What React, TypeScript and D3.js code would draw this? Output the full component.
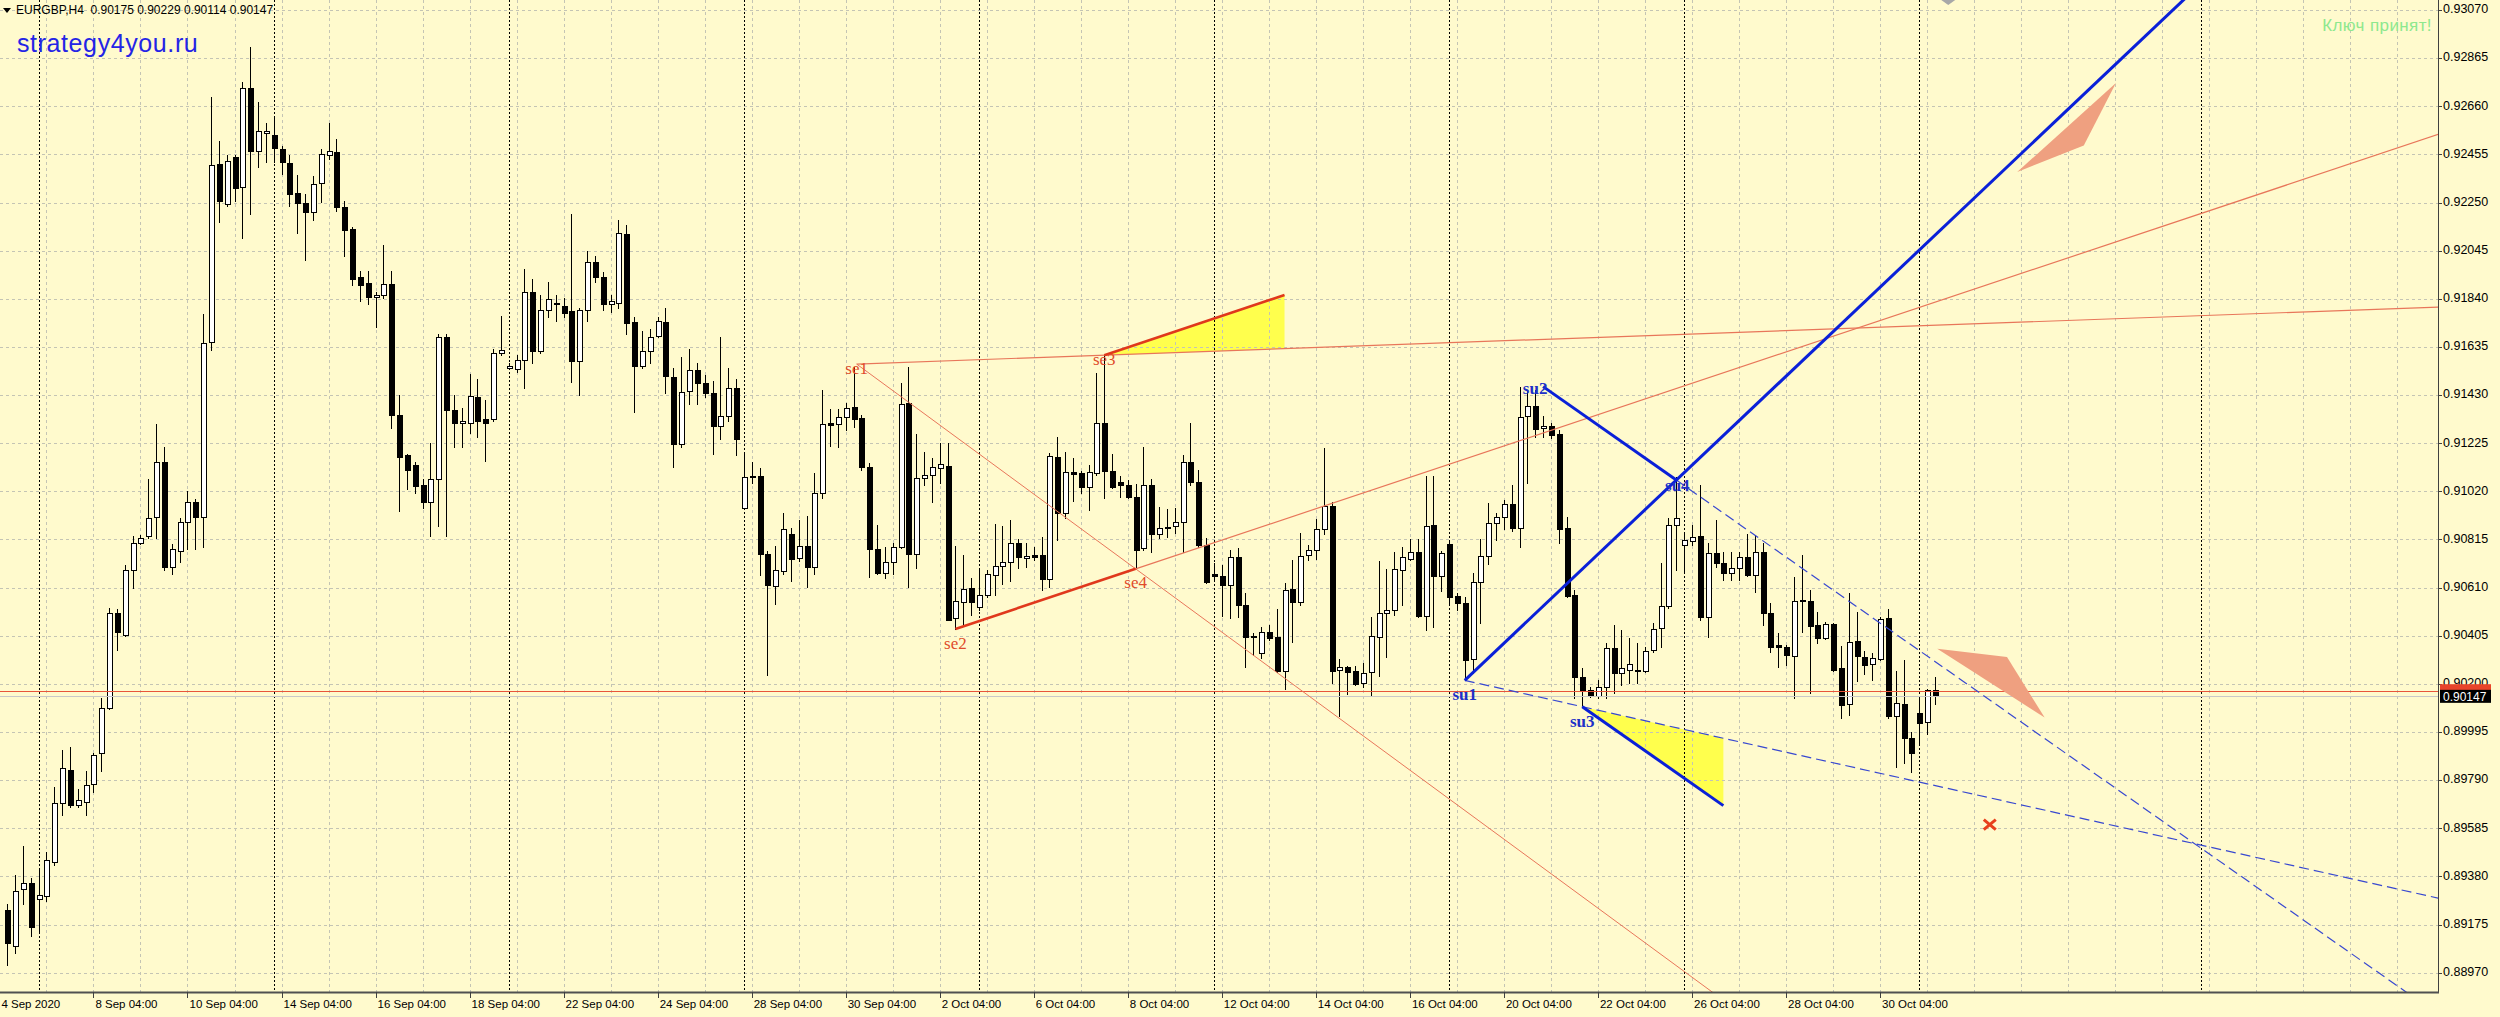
import React, { useRef, useEffect } from "react";
import * as d3 from "d3";

// EURGBP H4, bar 0 = 4 Sep 2020 08:00 ... bar 246 = 2 Nov 2020 08:00
const opens = [
  0.89235, 0.89083, 0.89326, 0.89354, 0.89284, 0.89296, 0.89442, 0.89691, 0.89834, 0.89685,
  0.89696, 0.89773, 0.89906, 0.90099, 0.90502, 0.90408, 0.90684, 0.908, 0.90828, 0.90911,
  0.91145, 0.90698, 0.90767, 0.90888, 0.90974, 0.90911, 0.91656, 0.92415, 0.92244, 0.92442,
  0.92318, 0.92738, 0.9247, 0.92547, 0.92539, 0.92478, 0.92418, 0.9229, 0.92249, 0.92208,
  0.92332, 0.92451, 0.92464, 0.9223, 0.92139, 0.91932, 0.91907, 0.91849, 0.91857, 0.91904,
  0.91347, 0.91173, 0.91131, 0.91048, 0.90974, 0.91071, 0.91678, 0.91366, 0.91313, 0.91313,
  0.91421, 0.9133, 0.9133, 0.91609, 0.91545, 0.9154, 0.91578, 0.91871, 0.91617, 0.91794,
  0.91816, 0.9181, 0.91788, 0.91576, 0.91794, 0.91995, 0.91932, 0.91816, 0.91821, 0.92114,
  0.91741, 0.91554, 0.91617, 0.91683, 0.91743, 0.91508, 0.9122, 0.91447, 0.91537, 0.9148,
  0.91437, 0.91299, 0.91342, 0.91459, 0.90947, 0.91085, 0.91085, 0.90753, 0.90618, 0.90682,
  0.90838, 0.90737, 0.90787, 0.90696, 0.91011, 0.91309, 0.91307, 0.91335, 0.91378, 0.91331,
  0.91125, 0.90773, 0.90673, 0.9072, 0.90784, 0.91395, 0.90753, 0.91075, 0.91089, 0.91121,
  0.91129, 0.90479, 0.9055, 0.90607, 0.90528, 0.90578, 0.90663, 0.90702, 0.9072, 0.90798,
  0.90737, 0.90747, 0.90749, 0.90645, 0.91167, 0.90926, 0.91104, 0.91099, 0.9104, 0.91099,
  0.91309, 0.91108, 0.9106, 0.91047, 0.90994, 0.90777, 0.91047, 0.90838, 0.90866, 0.90872,
  0.90891, 0.91146, 0.91061, 0.90791, 0.9067, 0.9066, 0.90621, 0.90741, 0.90536, 0.90398,
  0.90332, 0.90422, 0.904, 0.90256, 0.90602, 0.90547, 0.90751, 0.90772, 0.90858, 0.90958,
  0.90258, 0.90273, 0.90254, 0.90204, 0.90251, 0.904, 0.90503, 0.90514, 0.90687, 0.90734,
  0.90762, 0.90489, 0.90877, 0.9066, 0.90796, 0.90574, 0.90546, 0.90305, 0.90636, 0.90745,
  0.90884, 0.9091, 0.90966, 0.90863, 0.91341, 0.91384, 0.91289, 0.91299, 0.91265, 0.90863,
  0.90579, 0.90231, 0.90174, 0.90148, 0.90188, 0.90352, 0.90248, 0.90259, 0.90256, 0.90256,
  0.90344, 0.90437, 0.90532, 0.90877, 0.90792, 0.90809, 0.9083, 0.90486, 0.90756, 0.90716,
  0.90671, 0.90692, 0.90742, 0.90664, 0.90763, 0.90501, 0.90366, 0.90359, 0.90319, 0.90552,
  0.90555, 0.90451, 0.90394, 0.90455, 0.90267, 0.90115, 0.90383, 0.90316, 0.90284, 0.90305,
  0.9048, 0.90063, 0.90113, 0.89968, 0.90078, 0.90039, 0.90175,
];
const highs = [
  0.89263, 0.89387, 0.89511, 0.89373, 0.89415, 0.89484, 0.8976, 0.89917, 0.89933, 0.89751,
  0.89829, 0.89906, 0.90138, 0.90524, 0.90519, 0.90706, 0.90828, 0.90833, 0.91071, 0.91305,
  0.91209, 0.90795, 0.90905, 0.91021, 0.90988, 0.91774, 0.92699, 0.92511, 0.92451, 0.92451,
  0.92765, 0.92912, 0.92677, 0.92589, 0.92616, 0.92492, 0.92451, 0.92368, 0.92285, 0.92362,
  0.92478, 0.92589, 0.9252, 0.92257, 0.92147, 0.91959, 0.91959, 0.91871, 0.9207, 0.91959,
  0.91429, 0.91181, 0.91145, 0.91071, 0.91228, 0.91692, 0.91692, 0.91429, 0.91374, 0.91518,
  0.91498, 0.91407, 0.91628, 0.91766, 0.91567, 0.91601, 0.91968, 0.91926, 0.91857, 0.91912,
  0.91857, 0.91843, 0.92202, 0.91802, 0.92042, 0.92023, 0.91954, 0.91857, 0.92175, 0.92153,
  0.91761, 0.91705, 0.91711, 0.91761, 0.91799, 0.91544, 0.91593, 0.91625, 0.91568, 0.91515,
  0.9149, 0.91676, 0.91544, 0.91497, 0.91189, 0.91146, 0.91118, 0.90767, 0.90787, 0.90926,
  0.90866, 0.909, 0.90916, 0.91099, 0.91451, 0.91369, 0.91369, 0.91397, 0.91548, 0.91345,
  0.91142, 0.90876, 0.90784, 0.90798, 0.9148, 0.91548, 0.91264, 0.91189, 0.9116, 0.91224,
  0.91227, 0.90787, 0.90749, 0.90649, 0.90687, 0.90685, 0.90879, 0.90872, 0.90898, 0.90815,
  0.90798, 0.90784, 0.90827, 0.91182, 0.91253, 0.91189, 0.9116, 0.91108, 0.91132, 0.91522,
  0.916, 0.91179, 0.91085, 0.91068, 0.91051, 0.9121, 0.91071, 0.90954, 0.90943, 0.9095,
  0.91175, 0.91309, 0.91113, 0.9082, 0.90713, 0.90706, 0.9077, 0.90777, 0.90585, 0.90415,
  0.90443, 0.9045, 0.90517, 0.9063, 0.90727, 0.90841, 0.90791, 0.90904, 0.91203, 0.90975,
  0.90304, 0.90275, 0.90275, 0.90287, 0.90486, 0.90723, 0.90691, 0.90762, 0.90781, 0.90815,
  0.90819, 0.91086, 0.91086, 0.90768, 0.90806, 0.90589, 0.90572, 0.90674, 0.90816, 0.90969,
  0.90927, 0.90983, 0.91047, 0.91466, 0.91452, 0.91452, 0.91341, 0.9131, 0.91282, 0.9091,
  0.906, 0.90266, 0.90188, 0.90217, 0.90373, 0.90451, 0.9043, 0.90394, 0.90373, 0.90359,
  0.90458, 0.90714, 0.90905, 0.91083, 0.90841, 0.90877, 0.91047, 0.90799, 0.90898, 0.90763,
  0.90763, 0.90763, 0.90839, 0.90834, 0.90802, 0.90543, 0.90418, 0.90366, 0.90657, 0.90749,
  0.906, 0.90508, 0.90465, 0.90458, 0.90362, 0.90586, 0.90508, 0.90338, 0.9033, 0.90487,
  0.90518, 0.90257, 0.90302, 0.89997, 0.90139, 0.90177, 0.90229,
];
const lows = [
  0.89001, 0.89056, 0.89263, 0.89125, 0.89139, 0.89277, 0.89428, 0.89641, 0.89677, 0.89677,
  0.89641, 0.8974, 0.89829, 0.90091, 0.90345, 0.90403, 0.90607, 0.90795, 0.90822, 0.90822,
  0.90684, 0.9067, 0.90717, 0.90773, 0.90773, 0.90781, 0.91623, 0.92166, 0.92235, 0.92257,
  0.92097, 0.92202, 0.92401, 0.92423, 0.92423, 0.92373, 0.92235, 0.92119, 0.92004, 0.92175,
  0.92252, 0.92437, 0.92216, 0.92023, 0.91899, 0.9183, 0.91816, 0.91719, 0.91843, 0.91291,
  0.90938, 0.91029, 0.91015, 0.90947, 0.90828, 0.90872, 0.90828, 0.91209, 0.91209, 0.91269,
  0.9125, 0.91148, 0.91319, 0.91601, 0.9154, 0.91529, 0.91462, 0.91567, 0.91609, 0.91761,
  0.91744, 0.91761, 0.91485, 0.91429, 0.91747, 0.91912, 0.91794, 0.91783, 0.91802, 0.91692,
  0.9136, 0.91545, 0.91567, 0.91678, 0.91437, 0.91122, 0.9121, 0.91392, 0.91392, 0.91423,
  0.91179, 0.91245, 0.91321, 0.91173, 0.90945, 0.91054, 0.90663, 0.90237, 0.9054, 0.90668,
  0.90639, 0.90724, 0.90614, 0.9067, 0.9099, 0.91214, 0.9121, 0.91281, 0.91292, 0.91111,
  0.90656, 0.9067, 0.90652, 0.9067, 0.90777, 0.90614, 0.90692, 0.91047, 0.90976, 0.91054,
  0.90472, 0.90432, 0.90457, 0.90493, 0.90514, 0.90571, 0.90578, 0.90625, 0.90639, 0.90692,
  0.90699, 0.90727, 0.90599, 0.90614, 0.90812, 0.90905, 0.9098, 0.91011, 0.9094, 0.91089,
  0.9099, 0.91033, 0.90997, 0.9099, 0.9069, 0.9077, 0.90763, 0.9082, 0.90824, 0.90841,
  0.90763, 0.91047, 0.90784, 0.90628, 0.90642, 0.90489, 0.90479, 0.90486, 0.90273, 0.90322,
  0.90311, 0.90389, 0.90251, 0.9018, 0.90379, 0.90535, 0.90727, 0.9073, 0.90838, 0.90204,
  0.90062, 0.90159, 0.90195, 0.90187, 0.90148, 0.90233, 0.90315, 0.90493, 0.90535, 0.90727,
  0.90486, 0.9043, 0.90444, 0.90597, 0.90543, 0.90515, 0.90217, 0.90245, 0.90458, 0.90711,
  0.90813, 0.90858, 0.90853, 0.90782, 0.91057, 0.91253, 0.91253, 0.91246, 0.90799, 0.90572,
  0.90139, 0.90103, 0.90143, 0.90139, 0.90139, 0.9016, 0.90195, 0.90202, 0.90202, 0.90252,
  0.90337, 0.90359, 0.90522, 0.90685, 0.90678, 0.90792, 0.90472, 0.90401, 0.90699, 0.90643,
  0.90643, 0.90643, 0.9066, 0.90593, 0.90451, 0.90337, 0.90273, 0.90281, 0.90139, 0.90423,
  0.9016, 0.90376, 0.9039, 0.90257, 0.90054, 0.90068, 0.90214, 0.90242, 0.90217, 0.90302,
  0.90054, 0.89845, 0.89862, 0.89826, 0.89947, 0.89987, 0.90114,
];
const closes = [
  0.89097, 0.89318, 0.89354, 0.89166, 0.89299, 0.89448, 0.89691, 0.8984, 0.89685, 0.89704,
  0.89768, 0.89898, 0.90099, 0.90502, 0.90422, 0.90684, 0.908, 0.90822, 0.90905, 0.91145,
  0.90698, 0.90773, 0.90888, 0.90974, 0.90911, 0.9165, 0.92409, 0.92257, 0.92429, 0.92313,
  0.92738, 0.9247, 0.92553, 0.92553, 0.92484, 0.92423, 0.92285, 0.92249, 0.92208, 0.92327,
  0.92456, 0.9247, 0.9223, 0.92133, 0.91926, 0.91899, 0.91849, 0.91857, 0.91904, 0.91347,
  0.91167, 0.91112, 0.91043, 0.90974, 0.91071, 0.91678, 0.91366, 0.91311, 0.91319, 0.91424,
  0.91319, 0.91313, 0.91609, 0.91623, 0.91554, 0.91578, 0.91871, 0.91617, 0.91794, 0.91838,
  0.91821, 0.9178, 0.91576, 0.91794, 0.91995, 0.91932, 0.91816, 0.9183, 0.92119, 0.91738,
  0.91554, 0.91617, 0.91678, 0.91747, 0.91511, 0.9122, 0.91441, 0.91537, 0.9148, 0.91437,
  0.91299, 0.91342, 0.91459, 0.91241, 0.91082, 0.91084, 0.90753, 0.90621, 0.90685, 0.90858,
  0.90731, 0.90787, 0.90696, 0.91011, 0.91305, 0.91304, 0.91335, 0.91373, 0.91326, 0.91125,
  0.90773, 0.90673, 0.9072, 0.90784, 0.91392, 0.90753, 0.91075, 0.91089, 0.91125, 0.91135,
  0.90474, 0.90554, 0.90602, 0.9055, 0.90578, 0.90668, 0.90702, 0.9072, 0.90798, 0.90741,
  0.90744, 0.90741, 0.90645, 0.9117, 0.90929, 0.91104, 0.91096, 0.91037, 0.91104, 0.91309,
  0.91108, 0.9104, 0.91047, 0.90994, 0.9077, 0.91047, 0.90838, 0.90866, 0.90869, 0.90891,
  0.91146, 0.91061, 0.90791, 0.90635, 0.90659, 0.90621, 0.90741, 0.90536, 0.90401, 0.90403,
  0.90422, 0.90396, 0.90256, 0.90599, 0.90547, 0.90745, 0.90772, 0.90858, 0.90958, 0.90256,
  0.90273, 0.90251, 0.90199, 0.90247, 0.90403, 0.90503, 0.90514, 0.90691, 0.90741, 0.90762,
  0.90488, 0.90873, 0.90661, 0.90756, 0.90572, 0.90546, 0.90302, 0.90636, 0.90745, 0.90884,
  0.90912, 0.90966, 0.90863, 0.91338, 0.91384, 0.91284, 0.91299, 0.9126, 0.90858, 0.90574,
  0.90231, 0.90171, 0.90153, 0.90188, 0.90352, 0.90248, 0.90266, 0.90283, 0.90259, 0.90342,
  0.90432, 0.90532, 0.90877, 0.90905, 0.90813, 0.90827, 0.90486, 0.90756, 0.90716, 0.90674,
  0.90692, 0.90742, 0.90664, 0.90763, 0.90501, 0.90356, 0.90359, 0.90323, 0.90555, 0.90558,
  0.90448, 0.90394, 0.90454, 0.90259, 0.9011, 0.9038, 0.90319, 0.90281, 0.90312, 0.90475,
  0.90063, 0.9012, 0.89968, 0.89907, 0.90035, 0.90175, 0.90147,
];

const timeTickBars = [-1, 11, 23, 35, 47, 59, 71, 83, 95, 107, 119, 131, 143, 155, 167, 179, 191, 203, 215, 227, 239];
const timeTickLabels = [
  "4 Sep 2020", "8 Sep 04:00", "10 Sep 04:00", "14 Sep 04:00", "16 Sep 04:00", "18 Sep 04:00",
  "22 Sep 04:00", "24 Sep 04:00", "28 Sep 04:00", "30 Sep 04:00", "2 Oct 04:00", "6 Oct 04:00",
  "8 Oct 04:00", "12 Oct 04:00", "14 Oct 04:00", "16 Oct 04:00", "20 Oct 04:00", "22 Oct 04:00",
  "26 Oct 04:00", "28 Oct 04:00", "30 Oct 04:00",
];
const priceTicks = [
  0.8897, 0.89175, 0.8938, 0.89585, 0.8979, 0.89995, 0.902, 0.90405, 0.9061, 0.90815, 0.9102,
  0.91225, 0.9143, 0.91635, 0.9184, 0.92045, 0.9225, 0.92455, 0.9266, 0.92865, 0.9307,
];
const separatorBars = [4, 34, 64, 94, 124, 154, 184, 214, 244, 280];

// pattern points [bar, price]
const se1 = [108.4, 0.91562], se2 = [121, 0.90434], se3 = [140, 0.916], se4 = [144, 0.9069];
const su1 = [186, 0.90215], su2 = [196, 0.91466], su3 = [201, 0.90103], su4 = [213, 0.91068];
const seWedgeEnd = 163;
const suWedgeEnd = 219;
const upArrow = [[256.5, 0.9238], [269.1, 0.92759], [265.0, 0.92493]];
const downArrow = [[246.3, 0.9035], [255.2, 0.90314], [260.0, 0.90057]];
const crossMark = [253.0, 0.89601];
const redLevel = 0.90171;
const symbol = "EURGBP,H4";

const App = () => {
  const svgRef = useRef(null);

  useEffect(() => {
    const svg = d3.select(svgRef.current);
    svg.selectAll("*").remove();

    const plotRight = 2438;
    const plotBottom = 992;
    const last = closes.length - 1;

    const x = d3.scaleLinear().domain([0, 246]).range([7.26, 7.26 + 7.836 * 246]);
    const y = d3.scaleLinear().domain([0.8897, 0.9307]).range([972.7, 10]);
    const px = (b) => Math.round(x(b)) + 0.5;
    const py = (p) => Math.round(y(p)) + 0.5;
    const at = (a, b, bar) => a[1] + ((b[1] - a[1]) * (bar - a[0])) / (b[0] - a[0]);

    svg.append("rect").attr("width", 2500).attr("height", 1017).attr("fill", "#FFFACD");

    svg.append("defs").append("clipPath").attr("id", "plotClip")
      .append("rect").attr("x", 0).attr("y", 0).attr("width", plotRight).attr("height", plotBottom);

    const plot = svg.append("g").attr("clip-path", "url(#plotClip)");

    // yellow wedges
    const seSlope = (se4[1] - se2[1]) / (se4[0] - se2[0]);
    const seEnd = [seWedgeEnd, se3[1] + seSlope * (seWedgeEnd - se3[0])];
    const suSlope = (su4[1] - su2[1]) / (su4[0] - su2[0]);
    const suEnd = [suWedgeEnd, su3[1] + suSlope * (suWedgeEnd - su3[0])];
    const poly = (pts) => pts.map((p) => `${x(p[0])},${y(p[1])}`).join(" ");
    plot.append("polygon")
      .attr("points", poly([se3, seEnd, [seWedgeEnd, at(se1, se3, seWedgeEnd)]]))
      .attr("fill", "#FFFF4D");
    plot.append("polygon")
      .attr("points", poly([su3, suEnd, [suWedgeEnd, at(su1, su3, suWedgeEnd)]]))
      .attr("fill", "#FFFF4D");

    // grid
    plot.selectAll(".hgrid").data(priceTicks).enter().append("line")
      .attr("x1", 0).attr("x2", plotRight)
      .attr("y1", (d) => py(d)).attr("y2", (d) => py(d))
      .attr("stroke", "#c4c4b4").attr("stroke-dasharray", "3,3");
    plot.selectAll(".vgrid").data(d3.range(5, 311, 6)).enter().append("line")
      .attr("x1", (d) => px(d)).attr("x2", (d) => px(d))
      .attr("y1", 0).attr("y2", plotBottom)
      .attr("stroke", "#c4c4b4").attr("stroke-dasharray", "3,3");
    plot.selectAll(".sep").data(separatorBars).enter().append("line")
      .attr("x1", (d) => px(d)).attr("x2", (d) => px(d))
      .attr("y1", 0).attr("y2", plotBottom)
      .attr("stroke", "#000").attr("stroke-dasharray", "2,2");

    // candles
    const bars = d3.range(opens.length);
    const cg = plot.append("g").attr("shape-rendering", "crispEdges");
    cg.selectAll(".wick").data(bars).enter().append("line")
      .attr("x1", (i) => px(i)).attr("x2", (i) => px(i))
      .attr("y1", (i) => Math.round(y(highs[i]))).attr("y2", (i) => Math.round(y(lows[i])) + 1)
      .attr("stroke", "#000");
    cg.selectAll(".body").data(bars).enter().append("rect")
      .attr("x", (i) => Math.round(x(i)) - 2)
      .attr("y", (i) => Math.round(y(Math.max(opens[i], closes[i]))))
      .attr("width", 5)
      .attr("height", (i) => Math.max(1, Math.round(y(Math.min(opens[i], closes[i]))) - Math.round(y(Math.max(opens[i], closes[i])))))
      .attr("fill", (i) => (closes[i] >= opens[i] ? "#fff" : "#000"))
      .attr("stroke", "#000").attr("stroke-width", 1);

    // horizontal levels
    plot.append("line").attr("x1", 0).attr("x2", plotRight)
      .attr("y1", py(closes[last])).attr("y2", py(closes[last]))
      .attr("stroke", "#c8c8c8");
    plot.append("line").attr("x1", 0).attr("x2", plotRight)
      .attr("y1", py(redLevel)).attr("y2", py(redLevel))
      .attr("stroke", "#E8553A");

    const seg = (a, b, color, w, dash) => {
      const l = plot.append("line")
        .attr("x1", x(a[0])).attr("y1", y(a[1]))
        .attr("x2", x(b[0])).attr("y2", y(b[1]))
        .attr("stroke", color).attr("stroke-width", w);
      if (dash) l.attr("stroke-dasharray", dash);
    };
    const far = 330;

    // se pattern
    seg(se1, [far, at(se1, se3, far)], "#E8765A", 1.2);
    seg(se1, [far, at(se1, se4, far)], "#E8765A", 1);
    seg(se4, [far, at(se2, se4, far)], "#E8765A", 1.2);
    seg(se2, se4, "#E0381C", 2.6);
    seg(se3, seEnd, "#E0381C", 2.6);

    // su pattern
    seg(su1, [far, at(su1, su3, far)], "#3848D0", 1.2, "10,5");
    seg(su4, [far, at(su2, su4, far)], "#3848D0", 1.2, "10,5");
    seg(su1, [far, at(su1, su4, far)], "#0A20D8", 3);
    seg(su2, su4, "#0A20D8", 3);
    seg(su3, suEnd, "#0A20D8", 3);

    const labels = [
      [se1, "se1", 0, 6, "#E04A2A", "normal"],
      [se2, "se2", 0, 16, "#E04A2A", "normal"],
      [se3, "se3", 0, 6, "#E04A2A", "normal"],
      [se4, "se4", 0, 15, "#E04A2A", "normal"],
      [su1, "su1", 0, 16, "#2030C8", "bold"],
      [su2, "su2", -8, 3, "#2030C8", "bold"],
      [su3, "su3", 0, 16, "#2030C8", "bold"],
      [su4, "su4", 1, 7, "#2030C8", "bold"],
    ];
    plot.selectAll(".plabel").data(labels).enter().append("text")
      .attr("x", (d) => x(d[0][0]) + d[2])
      .attr("y", (d) => y(d[0][1]) + d[3])
      .attr("text-anchor", "middle").attr("dominant-baseline", "middle")
      .attr("font-family", "'Liberation Serif', 'Times New Roman', serif")
      .attr("font-size", 17).attr("font-weight", (d) => d[5])
      .attr("fill", (d) => d[4]).text((d) => d[1]);

    // arrows and cross
    plot.append("polygon").attr("points", poly(upArrow)).attr("fill", "#EFA080");
    plot.append("polygon").attr("points", poly(downArrow)).attr("fill", "#EFA080");
    const cx = x(crossMark[0]), cy = y(crossMark[1]);
    plot.append("path")
      .attr("d", `M${cx - 6},${cy - 5}L${cx + 6},${cy + 5}M${cx - 6},${cy + 5}L${cx + 6},${cy - 5}`)
      .attr("stroke", "#E8401C").attr("stroke-width", 3);

    // chart shift marker
    const sx = x(247.7);
    svg.append("polygon")
      .attr("points", `${sx - 7},0 ${sx + 7},0 ${sx},5`)
      .attr("fill", "#a8a8a8");

    // axes
    svg.append("line").attr("x1", plotRight + 0.5).attr("x2", plotRight + 0.5)
      .attr("y1", 0).attr("y2", plotBottom + 1).attr("stroke", "#404040");
    svg.append("line").attr("x1", 0).attr("x2", plotRight + 1)
      .attr("y1", plotBottom + 0.5).attr("y2", plotBottom + 0.5)
      .attr("stroke", "#505050").attr("stroke-width", 2);

    const axisFont = "'Liberation Sans', Arial, sans-serif";
    svg.selectAll(".ptick").data(priceTicks).enter().append("line")
      .attr("x1", plotRight).attr("x2", plotRight + 4)
      .attr("y1", (d) => py(d)).attr("y2", (d) => py(d)).attr("stroke", "#404040");
    svg.selectAll(".plab").data(priceTicks).enter().append("text")
      .attr("x", plotRight + 5).attr("y", (d) => y(d))
      .attr("dominant-baseline", "middle")
      .attr("font-family", axisFont).attr("font-size", 12.5).attr("fill", "#000")
      .text((d) => d.toFixed(5));

    svg.selectAll(".ttick").data(timeTickBars).enter().append("line")
      .attr("x1", (d) => px(d)).attr("x2", (d) => px(d))
      .attr("y1", plotBottom).attr("y2", plotBottom + 6).attr("stroke", "#404040");
    svg.selectAll(".tlab").data(timeTickLabels).enter().append("text")
      .attr("x", (d, i) => x(timeTickBars[i]) + 2).attr("y", 1008)
      .attr("font-family", axisFont).attr("font-size", 11.5).attr("fill", "#000")
      .text((d) => d);

    // price boxes (red line tag is covered by the bid tag)
    svg.append("rect").attr("x", plotRight + 2).attr("y", y(redLevel) - 6.5)
      .attr("width", 51).attr("height", 13).attr("fill", "#E8452A");
    svg.append("rect").attr("x", plotRight + 2).attr("y", y(closes[last]) - 6.5)
      .attr("width", 51).attr("height", 13).attr("fill", "#000");
    svg.append("text").attr("x", plotRight + 5).attr("y", y(closes[last]) + 1)
      .attr("dominant-baseline", "middle").attr("font-family", axisFont)
      .attr("font-size", 12).attr("fill", "#fff").text(closes[last].toFixed(5));

    // header texts
    svg.append("polygon").attr("points", "3,8 11,8 7,13").attr("fill", "#000");
    svg.append("text").attr("x", 16).attr("y", 14)
      .attr("font-family", axisFont).attr("font-size", 12).attr("fill", "#000")
      .attr("xml:space", "preserve")
      .text(`${symbol}  ${opens[last].toFixed(5)} ${highs[last].toFixed(5)} ${lows[last].toFixed(5)} ${closes[last].toFixed(5)}`);
    svg.append("text").attr("x", 17).attr("y", 52)
      .attr("font-family", axisFont).attr("font-size", 25).attr("letter-spacing", 0.6)
      .attr("fill", "#2424E6").text("strategy4you.ru");
    svg.append("text").attr("x", 2432).attr("y", 31).attr("text-anchor", "end")
      .attr("font-family", axisFont).attr("font-size", 17).attr("letter-spacing", 0.4)
      .attr("fill", "#8EE88E").text("Ключ принят!");

    return () => {};
  }, []);

  return (
    <svg ref={svgRef} width={2500} height={1017}
      style={{ position: "absolute", left: 0, top: 0, display: "block" }} />
  );
};

export default App;
